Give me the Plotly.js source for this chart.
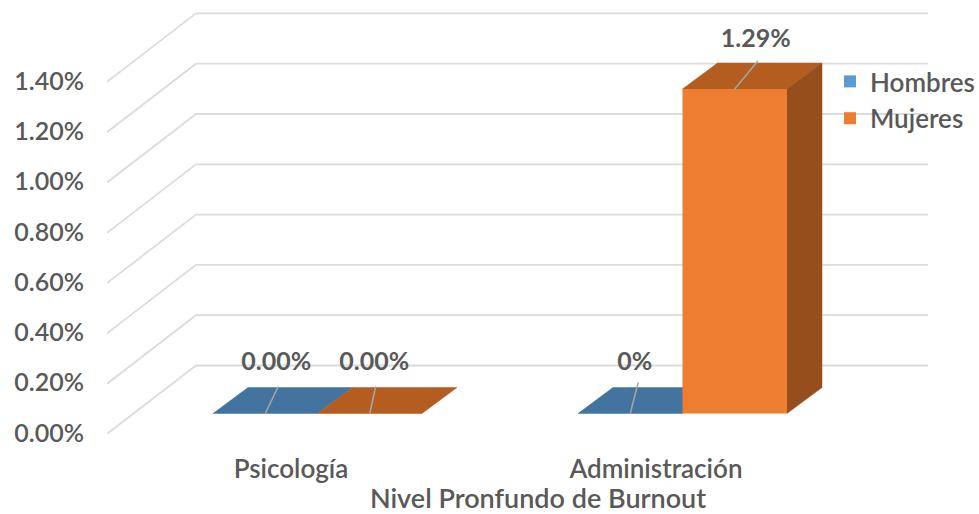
<!DOCTYPE html>
<html>
<head>
<meta charset="utf-8">
<script src="https://cdn.plot.ly/plotly-3.0.1.min.js"></script>
<style>html,body{margin:0;padding:0;background:#fff}#chart{width:979px;height:514px}</style>
</head>
<body>
<div id="chart"></div>
<script>
var categories = ['Psicología', 'Administración'];
var seriesNames = ['Hombres', 'Mujeres'];
var hombres = [0.00, 0.00];
var mujeres = [0.00, 1.29];
var hombresLabels = ['0.00%', '0%'];
var mujeresLabels = ['0.00%', '1.29%'];
var yTicks = [0, 0.2, 0.4, 0.6, 0.8, 1.0, 1.2, 1.4];
var xTitle = 'Nivel Pronfundo de Burnout';

var FONT = 'Lato, Carlito, Calibri, sans-serif';
var TEXT = '#595959';
var PXX = 365, PXY = 251.5;      // pixels per category / per 1 %
var ML = 107, MR = 10, MT = 5, MB = 80, W = 979, H = 514;
var ORIGIN = 317.5;              // pixel x of category 0's front centre
var xr = [(ML - ORIGIN) / PXX, (W - MR - ORIGIN) / PXX];
var yr = [0, (H - MB - MT) / PXY];
var barW = 104.5 / PXX;
var floorY = 20.5 / PXY;         // bars stand in front of the back wall
var depthX = 35 / PXX, depthY = 26 / PXY;
var wallX = 89 / PXX, wallY = 68.5 / PXY;
var wallRight = (928 - ORIGIN) / PXX;
var tickShift = -26.5 / PXX;

function fnt(size, weight) { return {family: FONT, size: size, color: TEXT, weight: weight || 600}; }

// walls
var gx = [], gy = [];
yTicks.forEach(function (v) {
  gx.push(xr[0], xr[0] + wallX, wallRight, null);
  gy.push(v, v + wallY, v + wallY, null);
});
var traces = [{
  type: 'scatter', mode: 'lines', x: gx, y: gy, cliponaxis: false,
  line: {color: '#dcdcdc', width: 1.8}, showlegend: false, hoverinfo: 'skip'
}];

function poly(xs, ys, color) {
  return {type: 'scatter', mode: 'lines', x: xs, y: ys, fill: 'toself', fillcolor: color,
    line: {color: color, width: 0.5}, showlegend: false, hoverinfo: 'skip', cliponaxis: false};
}
var topCol = ['#43749f', '#b45d20'], sideCol = ['#2f5a80', '#964f1c'];
var barCol = ['#5b9bd5', '#ed7d31'];
var all = [hombres, mujeres], labels = [hombresLabels, mujeresLabels];

all.forEach(function (vals, s) {
  vals.forEach(function (v, c) {
    var l = c + (s === 0 ? -barW : 0), r = l + barW, t = floorY + v;
    traces.push(poly([l, r, r + depthX, l + depthX, l], [t, t, t + depthY, t + depthY, t], topCol[s]));
    if (v > 0) {
      traces.push(poly([r, r + depthX, r + depthX, r, r],
        [floorY, floorY + depthY, t + depthY, t, floorY], sideCol[s]));
    }
  });
});

// front faces on an overlay so they hide the floor of the neighbouring bar
all.forEach(function (vals, s) {
  traces.push({
    type: 'bar', name: seriesNames[s], legendgroup: seriesNames[s], xaxis: 'x2', yaxis: 'y2',
    x: vals.map(function (v, c) { return c + (s === 0 ? -barW / 2 : barW / 2); }),
    y: vals, base: floorY, width: barW, marker: {color: barCol[s]}, hoverinfo: 'skip'
  });
});

// leader lines and data labels
var leaderDx = [[13, 8], [6, 23]], leaderDy = [[27, 31], [27, 28]];
var labelDx = [[11, 4.5], [4.5, 21]], labelDy = [50, 48];
all.forEach(function (vals, s) {
  vals.forEach(function (v, c) {
    var cx = c + (s === 0 ? -barW / 2 : barW / 2), t = floorY + v;
    traces.push({
      type: 'scatter', mode: 'lines', xaxis: 'x2', yaxis: 'y2', cliponaxis: false,
      x: [cx, cx + leaderDx[s][c] / PXX], y: [t, t + leaderDy[s][c] / PXY],
      line: {color: '#a6a6a6', width: 1.5}, showlegend: false, hoverinfo: 'skip'
    });
    traces.push({
      type: 'scatter', mode: 'text', xaxis: 'x2', yaxis: 'y2', cliponaxis: false,
      x: [cx + labelDx[s][c] / PXX], y: [t + (v > 0 ? labelDy[1] : labelDy[0]) / PXY],
      text: [labels[s][c]], textposition: 'middle center',
      textfont: fnt(25, 700), showlegend: false, hoverinfo: 'skip'
    });
  });
});

var layout = {
  width: W, height: H,
  margin: {l: ML, r: MR, t: MT, b: MB, autoexpand: false},
  paper_bgcolor: '#fff', plot_bgcolor: 'rgba(0,0,0,0)',
  barmode: 'overlay', showlegend: true,
  font: fnt(25),
  xaxis: {
    range: xr, showgrid: false, zeroline: false, showline: false, ticks: '',
    tickmode: 'array',
    tickvals: categories.map(function (c, i) { return i + tickShift; }), ticktext: categories,
    tickfont: fnt(26), ticklabelstandoff: 17,
    title: {text: xTitle, font: fnt(27), standoff: 7}
  },
  yaxis: {
    range: yr, showgrid: false, zeroline: false, showline: false, ticks: '',
    tickmode: 'array', tickvals: yTicks,
    ticktext: yTicks.map(function (v) { return v.toFixed(2) + '%'; }),
    tickfont: fnt(25), ticklabelstandoff: 22, ticklabelshift: -1
  },
  xaxis2: {overlaying: 'x', range: xr, visible: false},
  yaxis2: {overlaying: 'y', range: yr, visible: false},
  legend: {
    x: (830 - ML) / (W - ML - MR), xanchor: 'left', y: (H - MB - 58) / (H - MB - MT), yanchor: 'top',
    bgcolor: 'rgba(0,0,0,0)', traceorder: 'grouped', tracegroupgap: 0,
    font: fnt(26), itemwidth: 30
  }
};
Plotly.newPlot('chart', traces, layout, {staticPlot: true, displayModeBar: false});
</script>
</body>
</html>
